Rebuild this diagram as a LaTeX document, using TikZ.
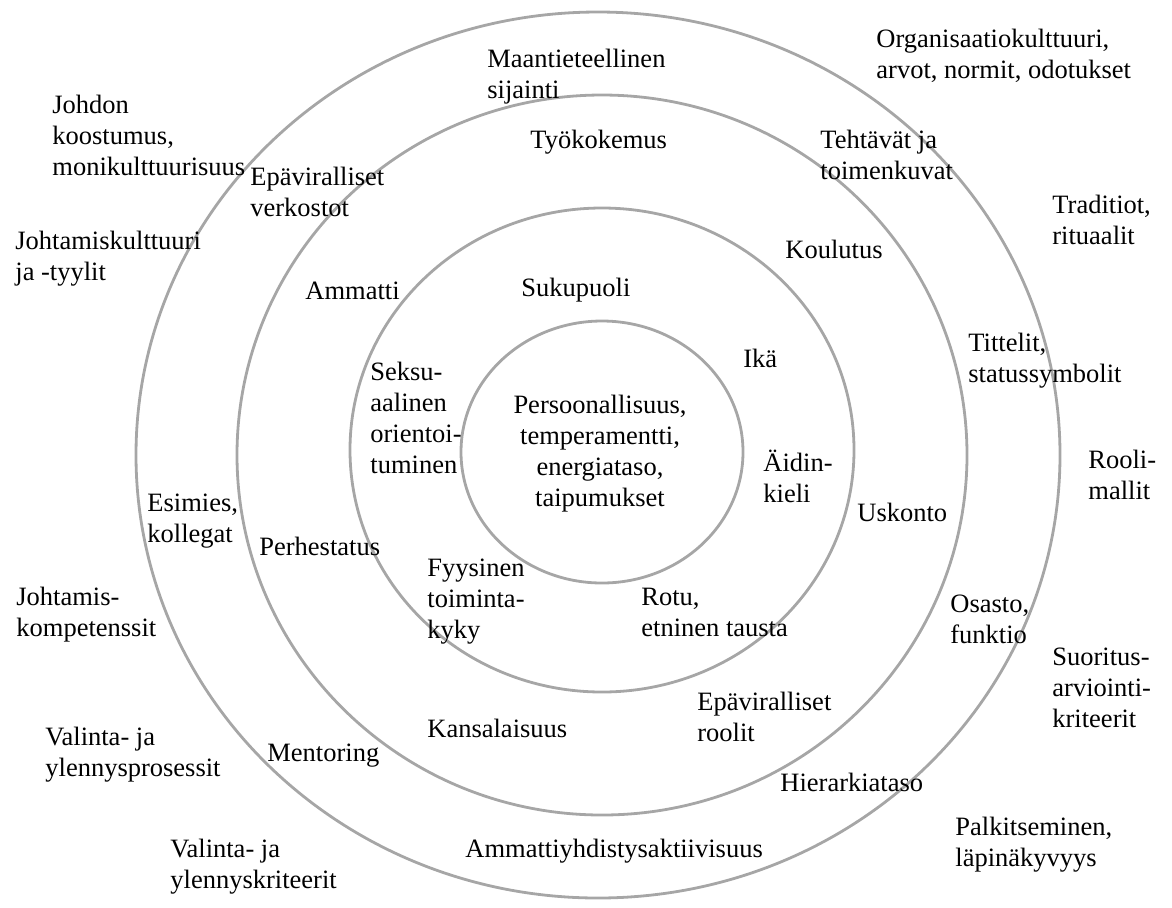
\documentclass[tikz,border=0pt]{standalone}
\usepackage{fontspec}
\setmainfont{Liberation Serif}
\usetikzlibrary{positioning}
\definecolor{ringGray}{HTML}{A6A6A6}

\begin{document}
\begin{tikzpicture}[x=0.5pt,y=-0.5pt,
    every node/.style={font=\fontsize{13.25pt}{15.5pt}\selectfont}]
      \tikzstyle{ring}=[draw=ringGray,line width=1.4pt]
      \tikzstyle{lbl}=[anchor=north west,inner sep=0pt,align=left]
      \useasboundingbox (0,0) rectangle (1172,907);

      % the four rings
      \draw[ring] (602,452) ellipse[x radius=70.5pt,y radius=65.5pt];
      \draw[ring] (602,450) ellipse[x radius=126pt,y radius=121pt];
      \draw[ring] (602,455) ellipse[x radius=182.5pt,y radius=180pt];
      \draw[ring] (598,455) ellipse[x radius=231pt,y radius=221.5pt];

      % core
      \node[inner sep=0pt,anchor=north,align=center] (pers) at (600,395)
        {Persoonallisuus,\\temperamentti,\\energiataso,\\taipumukset};

      % inner ring
      \node[lbl] (suku) at (521,278) {Sukupuoli};
      \node[lbl] (ika) at (743,349) {Ikä};
      \node[lbl] (seksu) at (370,362) {Seksu-\\aalinen\\orientoi-\\tuminen};
      \node[lbl] (aidin) at (763,450) {Äidin-\\kieli};
      \node[lbl] (fyys) at (427,559) {Fyysinen\\toiminta-\\kyky};
      \node[lbl] (rotu) at (641,588) {Rotu,\\etninen tausta};

      % middle ring
      \node[lbl] (tyokok) at (530,130) {Työkokemus};
      \node[lbl] (epavir) at (250,167) {Epäviralliset\\verkostot};
      \node[lbl] (koulu) at (785,240) {Koulutus};
      \node[lbl] (ammatti) at (305,282) {Ammatti};
      \node[lbl] (usko) at (857,503) {Uskonto};
      \node[lbl] (perhe) at (259,537) {Perhestatus};
      \node[lbl] (roolit) at (697,692) {Epäviralliset\\roolit};
      \node[lbl] (kansa) at (427,719) {Kansalaisuus};

      % outer ring
      \node[lbl] (maant) at (487,49) {Maantieteellinen\\sijainti};
      \node[lbl] (tehtavat) at (820,130) {Tehtävät ja\\toimenkuvat};
      \node[lbl] (titt) at (968,333) {Tittelit,\\statussymbolit};
      \node[lbl] (esim) at (147,494) {Esimies,\\kollegat};
      \node[lbl] (osasto) at (950,595) {Osasto,\\funktio};
      \node[lbl] (mentor) at (267,744) {Mentoring};
      \node[lbl] (hier) at (780,773) {Hierarkiataso};
      \node[lbl] (ammyhd) at (465,839) {Ammattiyhdistysaktiivisuus};

      % outside the rings
      \node[lbl] (org) at (876,29) {Organisaatiokulttuuri,\\arvot, normit, odotukset};
      \node[lbl] (johdon) at (52,95) {Johdon\\koostumus,\\monikulttuurisuus};
      \node[lbl] (trad) at (1052,195) {Traditiot,\\rituaalit};
      \node[lbl] (johtkult) at (15,231) {Johtamiskulttuuri\\ja -tyylit};
      \node[lbl] (malli) at (1088,450) {Rooli-\\mallit};
      \node[lbl] (komp) at (16,587) {Johtamis-\\kompetenssit};
      \node[lbl] (suor) at (1052,648) {Suoritus-\\arviointi-\\kriteerit};
      \node[lbl] (valpros) at (45,727) {Valinta- ja\\ylennysprosessit};
      \node[lbl] (palk) at (955,817) {Palkitseminen,\\läpinäkyvyys};
      \node[lbl] (valkrit) at (170,839) {Valinta- ja\\ylennyskriteerit};
    \end{tikzpicture}
\end{document}
